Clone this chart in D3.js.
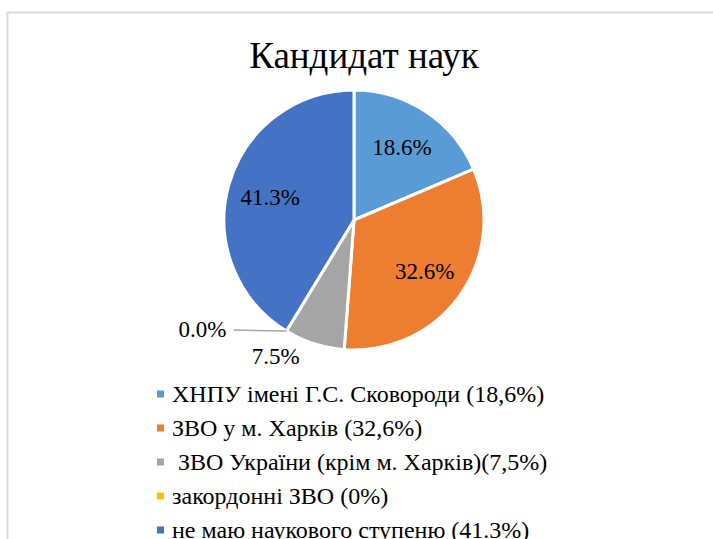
<!DOCTYPE html>
<html><head><meta charset="utf-8">
<script src="https://cdn.jsdelivr.net/npm/d3@7"></script>
<style>html,body{margin:0;padding:0;background:#fff;}svg{display:block;} text{font-family:"Liberation Serif","Times New Roman",serif;}</style>
</head><body>
<svg id="chart" width="713" height="539"></svg>
<script>
const title = "Кандидат наук";
const categories = ["ХНПУ імені Г.С. Сковороди (18,6%)", "ЗВО у м. Харків (32,6%)", " ЗВО України (крім м. Харків)(7,5%)", "закордонні ЗВО (0%)", "не маю наукового ступеню (41.3%)"];
const values = [18.6, 32.6, 7.5, 0.0, 41.3];
const labels = ["18.6%", "32.6%", "7.5%", "0.0%", "41.3%"];
const colors = ["#5B9BD5", "#ED7D31", "#A5A5A5", "#FFC000", "#4472C4"];

const svg = d3.select("#chart");
const W = 713, H = 539;

// chart border
svg.append("path").attr("d", `M7.5,${H} V12.5 H${W}`).attr("fill","none").attr("stroke","#d9d9d9").attr("stroke-width",2);

svg.append("text").attr("x",364).attr("y",68).attr("text-anchor","middle")
  .attr("font-size",37).attr("fill","#000").text(title);

const cx = 354, cy = 220, R = 130;
const g = svg.append("g").attr("transform",`translate(${cx},${cy})`);
const pie = d3.pie().sort(null).value(d=>d)(values);
const arc = d3.arc().innerRadius(0).outerRadius(R);
g.selectAll("path.slice").data(pie).join("path").attr("class","slice")
  .attr("d",arc).attr("fill",(d,i)=>colors[i]).attr("stroke","#fff").attr("stroke-width",3).attr("stroke-linejoin","round");

const inner = d3.arc().innerRadius(R*0.67).outerRadius(R*0.67);
const fs = 23;
pie.forEach((d,i)=>{
  const mid = (d.startAngle+d.endAngle)/2;
  let x, y;
  if (values[i] >= 10) {
    [x,y] = inner.centroid(d);
  } else if (values[i] > 0) {
    const a = mid + 0.21, r = R*1.21;
    x = r*Math.sin(a); y = -r*Math.cos(a);
  } else {
    const ex = R*Math.sin(mid), ey = -R*Math.cos(mid);
    const lx = ex - 53;
    g.append("line").attr("x1",ex).attr("y1",ey).attr("x2",lx).attr("y2",ey-1)
      .attr("stroke","#A5A5A5").attr("stroke-width",1.5);
    x = lx - 31; y = ey - 2;
  }
  g.append("text").attr("x",x).attr("y",y).attr("dy","0.35em").attr("text-anchor","middle")
    .attr("font-size",fs).attr("fill","#000").text(labels[i]);
});

// legend
const ly = d3.scaleLinear().domain([0,1]).range([394,428]);
const leg = svg.append("g");
categories.forEach((c,i)=>{
  const y = ly(i);
  leg.append("rect").attr("x",157).attr("y",y-3.5).attr("width",7).attr("height",7).attr("fill",colors[i]);
  leg.append("text").attr("x",172).attr("y",y).attr("dy","0.35em").style("white-space","pre")
    .attr("font-size",24).attr("fill","#000").text(c);
});
</script>
</body></html>
